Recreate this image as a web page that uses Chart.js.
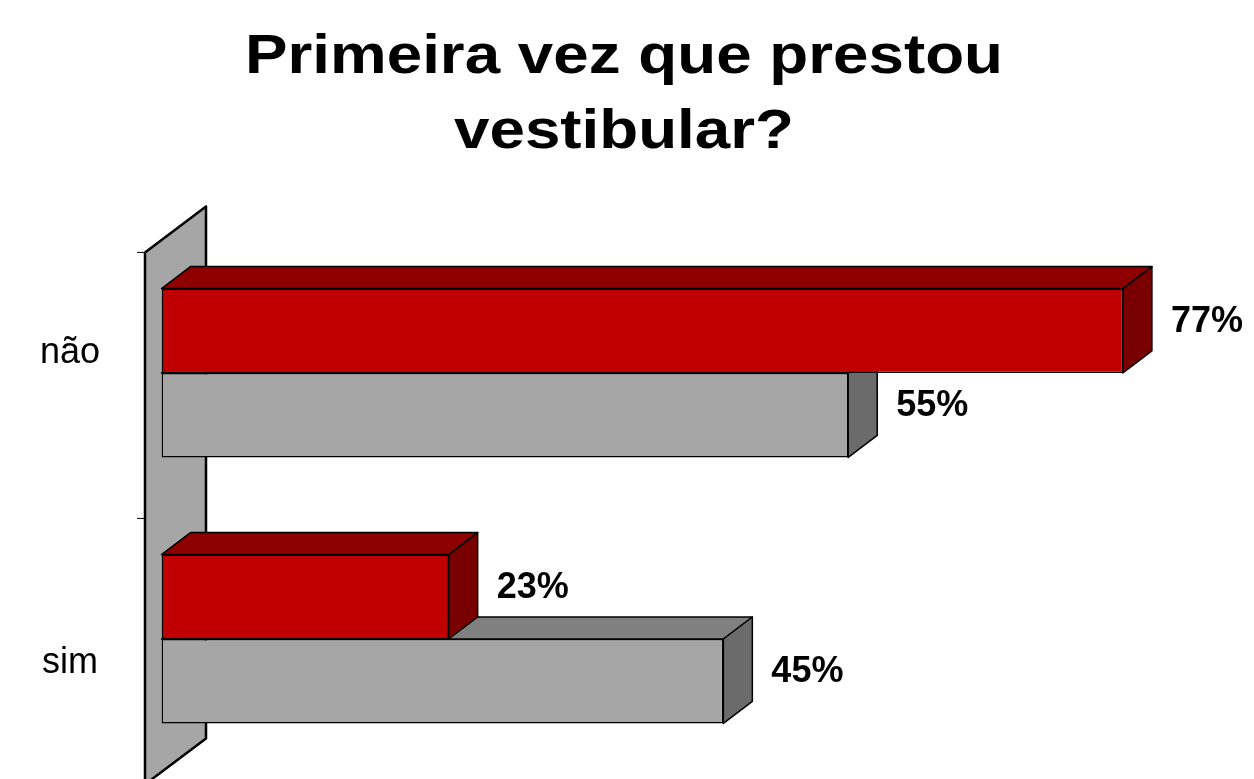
<!DOCTYPE html>
<html>
<head>
<meta charset="utf-8">
<script src="https://cdn.jsdelivr.net/npm/chart.js@4"></script>
<style>
  body{margin:0;background:#fff}
  #box{width:1254px;height:779px}
</style>
</head>
<body>
<div id="box"><canvas id="grafico"></canvas></div>
<script>
const categorias = ['não', 'sim'];
const serieVermelha = [77, 23];
const serieCinza = [55, 45];
const titulo = ['Primeira vez que prestou', 'vestibular?'];
const eixoMax = 87.5;

const fonte = "'Liberation Sans', Arial, sans-serif";
const prof = {dx: 29, dy: -22};          // profundidade das barras 3D
const deslocRotulo = [-10, 34];          // ajuste vertical dos rótulos de categoria

function face(ctx, pts, cor){
  ctx.beginPath();
  ctx.moveTo(pts[0][0], pts[0][1]);
  for(let i=1;i<pts.length;i++) ctx.lineTo(pts[i][0], pts[i][1]);
  ctx.closePath();
  ctx.fillStyle = cor;
  ctx.fill();
  ctx.stroke();
}

const barras3d = {
  id:'barras3d',
  beforeDatasetsDraw(chart){
    const ctx = chart.ctx, a = chart.chartArea;
    ctx.save();
    // parede lateral
    ctx.lineWidth = 2.5;
    ctx.strokeStyle = '#000';
    ctx.lineJoin = 'round';
    const fx = a.left-16.5, bx = a.left+44.5;
    face(ctx, [[fx, a.top+12.4],[bx, a.top-33.6],[bx, a.bottom-33.6],[fx, a.bottom+12.4]], '#a6a6a6');
    // marcas do eixo
    ctx.lineWidth = 1;
    const banda = (a.bottom-a.top)/categorias.length;
    for(let i=0;i<=categorias.length;i++){
      const ty = a.top + i*banda + 12.4;
      ctx.beginPath(); ctx.moveTo(fx-8, ty); ctx.lineTo(fx, ty); ctx.stroke();
    }
    ctx.restore();
  },
  afterDatasetDraw(chart, args){
    const ctx = chart.ctx, ds = chart.data.datasets[args.index];
    ctx.save();
    ctx.lineWidth = 1.5;
    ctx.strokeStyle = '#000';
    ctx.lineJoin = 'round';
    args.meta.data.forEach(b=>{
      const {x, y, base, height} = b.getProps(['x','y','base','height'], true);
      const t = y-height/2, bt = y+height/2;
      face(ctx, [[base,t],[x,t],[x+prof.dx,t+prof.dy],[base+prof.dx,t+prof.dy]], ds.corTopo);
      face(ctx, [[x,t],[x+prof.dx,t+prof.dy],[x+prof.dx,bt+prof.dy],[x,bt]], ds.corLado);
    });
    ctx.restore();
  },
  afterDraw(chart){
    const ctx = chart.ctx;
    ctx.save();
    ctx.fillStyle = '#000';
    ctx.textBaseline = 'alphabetic';

    // título (texto levemente esticado na horizontal, como no original)
    ctx.font = 'bold 56px ' + fonte;
    ctx.textAlign = 'center';
    const esticar = 758 / ctx.measureText(titulo[0]).width;
    titulo.forEach((linha, i)=>{
      ctx.save();
      ctx.translate(624, 73 + i*75);
      ctx.scale(esticar, 1);
      ctx.fillText(linha, 0, 0);
      ctx.restore();
    });

    ctx.font = 'bold 36px ' + fonte;
    ctx.textAlign = 'left';
    chart.data.datasets.forEach((ds, di)=>{
      chart.getDatasetMeta(di).data.forEach((b, i)=>{
        const {x, y} = b.getProps(['x','y'], true);
        ctx.fillText(ds.data[i] + '%', x + prof.dx + 19, y + 1);
      });
    });
    ctx.font = '36px ' + fonte;
    ctx.textAlign = 'center';
    categorias.forEach((c, i)=>{
      ctx.fillText(c, 70, chart.scales.y.getPixelForValue(i) + deslocRotulo[i]);
    });
    ctx.restore();
  }
};

new Chart(document.getElementById('grafico').getContext('2d'), {
  type:'bar',
  data:{
    labels:categorias,
    datasets:[
      {data:serieVermelha, backgroundColor:'#c00000', corTopo:'#8e0000', corLado:'#780000',
       borderColor:'#000', borderWidth:1.5, borderSkipped:false},
      {data:serieCinza, backgroundColor:'#a6a6a6', corTopo:'#808080', corLado:'#6b6b6b',
       borderColor:'#000', borderWidth:1.5, borderSkipped:false}
    ]
  },
  options:{
    indexAxis:'y',
    responsive:true,
    maintainAspectRatio:false,
    animation:false,
    categoryPercentage:0.635,
    barPercentage:1,
    layout:{padding:{top:240, bottom:7, left:0, right:0}},
    scales:{
      x:{display:false, min:0, max:eixoMax},
      y:{
        grid:{display:false}, border:{display:false}, ticks:{display:false},
        afterFit(s){ s.width = 161.5; }
      }
    },
    plugins:{
      legend:{display:false},
      tooltip:{enabled:false},
      title:{display:false}
    }
  },
  plugins:[barras3d]
});
</script>
</body>
</html>
